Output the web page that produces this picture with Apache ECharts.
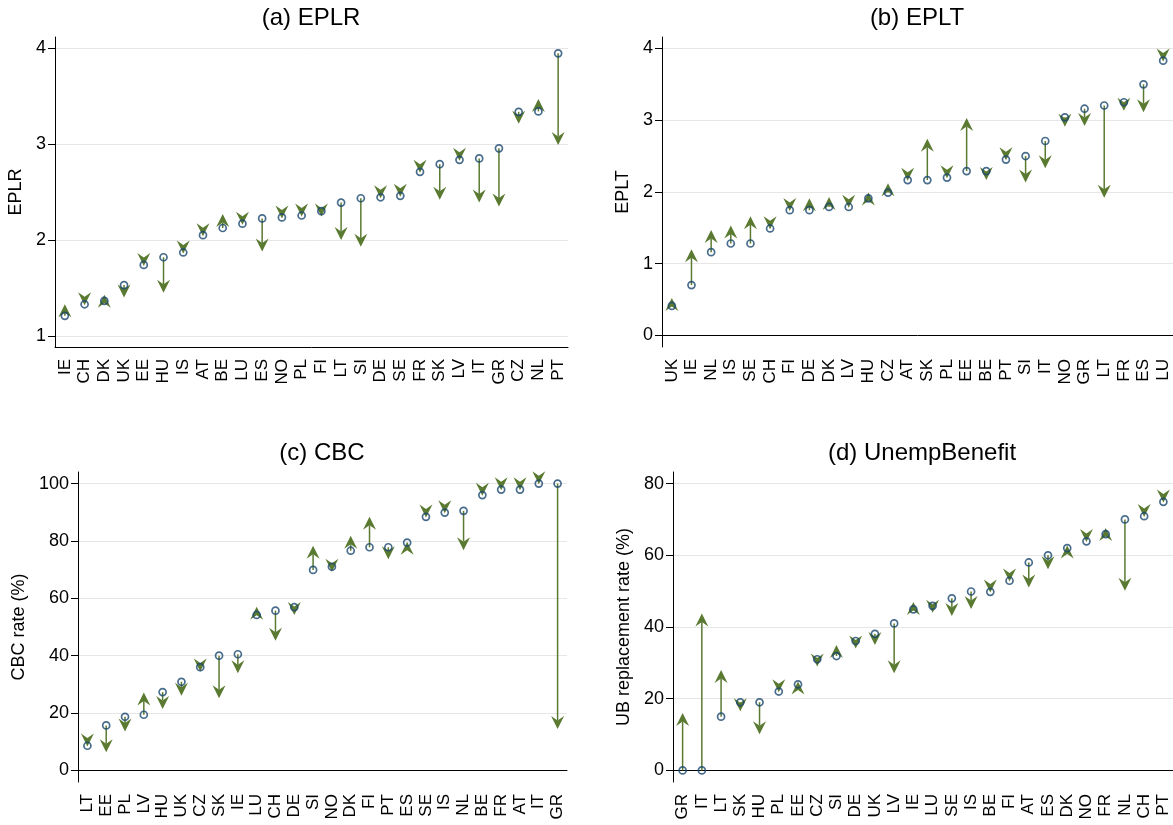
<!DOCTYPE html>
<html>
<head>
<meta charset="utf-8">
<script src="https://cdn.jsdelivr.net/npm/echarts@6/dist/echarts.min.js"></script>
<style>
html,body{margin:0;padding:0;background:#fff;}
#main{width:1173px;height:825px;}
</style>
</head>
<body>
<div id="main"></div>
<script>
// ---------- data ----------
var catsA  = ['IE','CH','DK','UK','EE','HU','IS','AT','BE','LU','ES','NO','PL','FI','LT','SI','DE','SE','FR','SK','LV','IT','GR','CZ','NL','PT'];
var startA = [1.21,1.33,1.365,1.53,1.74,1.82,1.87,2.05,2.125,2.17,2.225,2.235,2.255,2.30,2.39,2.435,2.445,2.46,2.71,2.79,2.835,2.85,2.955,3.335,3.34,3.945];
var endA   = [1.33,1.32,1.43,1.40,1.73,1.45,1.86,2.04,2.27,2.16,1.88,2.225,2.245,2.245,2.00,1.93,2.435,2.45,2.70,2.42,2.825,2.39,2.35,3.21,3.47,2.99];
var ticksA = [1,2,3,4];

var catsB  = ['UK','IE','NL','IS','SE','CH','FI','DE','DK','LV','HU','CZ','AT','SK','PL','EE','BE','PT','SI','IT','NO','GR','LT','FR','ES','LU'];
var startB = [0.41,0.70,1.16,1.28,1.28,1.49,1.745,1.745,1.79,1.79,1.91,1.99,2.165,2.165,2.20,2.29,2.29,2.45,2.50,2.71,3.04,3.16,3.205,3.25,3.50,3.83];
var endB   = [0.52,1.20,1.47,1.53,1.66,1.48,1.735,1.91,1.93,1.78,1.99,2.12,2.155,2.74,2.19,3.03,2.165,2.44,2.13,2.33,2.91,2.92,1.92,3.13,3.11,3.82];
var ticksB = [0,1,2,3,4];

var catsC  = ['LT','EE','PL','LV','HU','UK','CZ','SK','IE','LU','CH','DE','SI','NO','DK','FI','PT','ES','SE','IS','NL','BE','FR','AT','IT','GR'];
var startC = [8.6,15.7,18.7,19.4,27.3,30.9,36.0,40.0,40.5,54.2,55.7,56.9,69.9,71.0,76.6,77.8,77.8,79.4,88.4,89.9,90.5,96.0,97.9,97.9,100,100];
var endC   = [8.3,6.3,13.6,27.2,21.4,26.0,34.5,25.2,33.9,57.1,45.2,54.2,78.3,69.3,81.8,88.4,73.6,79.7,88.2,89.7,76.8,95.8,97.7,97.7,99.8,14.4];
var ticksC = [0,20,40,60,80,100];

var catsD  = ['GR','IT','LT','SK','HU','PL','EE','CZ','SI','DE','UK','LV','IE','LU','SE','IS','BE','FI','AT','ES','DK','NO','FR','NL','CH','PT'];
var startD = [0,0,15.0,19.0,19.0,22.0,24.0,31.0,31.9,36.1,38.1,41.0,44.9,45.9,48.0,49.9,49.8,52.9,58.0,60.0,62.0,63.9,65.9,70.0,70.9,74.9];
var endD   = [16.0,43.8,28.0,16.5,10.1,21.8,24.8,29.0,35.0,34.0,35.0,27.1,47.0,44.0,43.1,45.0,49.6,52.7,51.0,56.1,62.7,63.7,67.6,50.1,70.7,74.7];
var ticksD = [0,20,40,60,80];

var titles = ['(a) EPLR','(b) EPLT','(c) CBC','(d) UnempBenefit'];
var yNames = ['EPLR','EPLT','CBC rate (%)','UB replacement rate (%)'];

// ---------- style ----------
var GREEN = '#5a7a32', NAVY = '#1a476f', FONT = 'Liberation Sans, Arial, Helvetica, sans-serif';

var panels = [
  {cats:catsA, s:startA, e:endA, ticks:ticksA, min:0.885, max:4.115, grid:{left:55, top:37, width:513, height:310}, gap:30, tx:311, ty:6},
  {cats:catsB, s:startB, e:endB, ticks:ticksB, min:-0.163, max:4.16, grid:{left:662, top:37, width:511, height:310}, gap:30, tx:917, ty:6},
  {cats:catsC, s:startC, e:endC, ticks:ticksC, min:-4.04, max:104.04, grid:{left:78, top:472, width:489, height:310}, gap:50, tx:322, ty:441},
  {cats:catsD, s:startD, e:endD, ticks:ticksD, min:-3.23, max:83.23, grid:{left:673, top:472, width:500, height:310}, gap:40, tx:922, ty:441}
];

function arrowItem(params, api) {
  var c = api.value(0);
  var p0 = api.coord([c, api.value(1)]);
  var p1 = api.coord([c, api.value(2)]);
  var d = p1[1] >= p0[1] ? 1 : -1;
  var L = 13, W = 6.5, N = 4.5;
  var x = p1[0];
  var baseY = p1[1] - d * L, notchY = p1[1] - d * (L - N);
  var children = [];
  if (Math.abs(p1[1] - p0[1]) > L - N) {
    children.push({type:'line', shape:{x1:x, y1:p0[1], x2:x, y2:notchY}, style:{stroke:GREEN, lineWidth:1.5}});
  }
  children.push({type:'polygon', shape:{points:[[x, p1[1]], [x - W, baseY], [x, notchY], [x + W, baseY]]}, style:{fill:GREEN}});
  return {type:'group', children:children};
}

var option = {backgroundColor:'#fff', animation:false, title:[], grid:[], xAxis:[], yAxis:[], series:[]};

panels.forEach(function (p, k) {
  option.title.push({text:titles[k], left:p.tx, top:p.ty, textAlign:'center', padding:0,
    textStyle:{fontFamily:FONT, fontSize:24, fontWeight:'normal', color:'#000'}});
  option.grid.push(p.grid);
  option.xAxis.push({type:'category', gridIndex:k, data:p.cats, boundaryGap:true,
    axisLine:{lineStyle:{color:'#000', width:1}},
    axisTick:{alignWithLabel:true, length:7, lineStyle:{color:'#000'}},
    axisLabel:{interval:0, rotate:90, margin:12, fontFamily:FONT, fontSize:17, color:'#000'},
    splitLine:{show:false}});
  option.yAxis.push({type:'value', gridIndex:k, min:p.min, max:p.max,
    name:yNames[k], nameLocation:'middle', nameGap:p.gap,
    nameTextStyle:{fontFamily:FONT, fontSize:18, color:'#000'},
    axisLine:{show:true, lineStyle:{color:'#000', width:1}},
    axisTick:{show:true, length:7, lineStyle:{color:'#000'}, customValues:p.ticks},
    axisLabel:{fontFamily:FONT, fontSize:18, color:'#000', margin:9, customValues:p.ticks},
    splitLine:{show:true, lineStyle:{color:'#e6e6e6', width:1}}});
  var arr = [], pts = [];
  for (var i = 0; i < p.cats.length; i++) {
    arr.push([i, p.s[i], p.e[i]]);
    pts.push([i, p.s[i]]);
  }
  option.series.push({type:'custom', xAxisIndex:k, yAxisIndex:k, renderItem:arrowItem,
    encode:{x:0, y:[1, 2]}, data:arr, z:2, silent:true});
  option.series.push({type:'scatter', xAxisIndex:k, yAxisIndex:k, data:pts, symbol:'circle', symbolSize:7,
    itemStyle:{color:'rgba(0,0,0,0)', borderColor:NAVY, borderWidth:1.7}, z:3, silent:true});
});

var chart = echarts.init(document.getElementById('main'), null, {renderer:'canvas'});
chart.setOption(option);
</script>
</body>
</html>
